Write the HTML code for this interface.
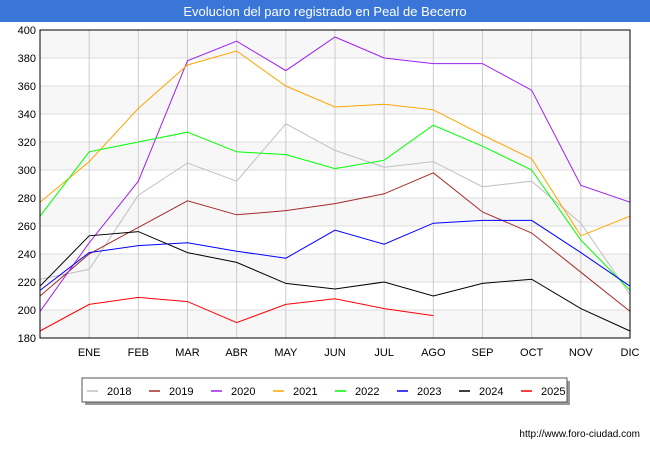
<!DOCTYPE html>
<html><head><meta charset="utf-8"><style>
body{margin:0;width:650px;height:450px;background:#fff;font-family:"Liberation Sans",sans-serif;overflow:hidden}
</style></head><body>
<svg width="650" height="450" xmlns="http://www.w3.org/2000/svg" font-family="Liberation Sans, sans-serif">
<rect x="0" y="0" width="650" height="22" fill="#3a76d8"/>
<text x="325" y="16" text-anchor="middle" fill="#fff" font-size="13">Evolucion del paro registrado en Peal de Becerro</text>
<g id="grid"></g><g id="series"></g>
<rect x="40" y="30" width="590" height="308" fill="none" stroke="#000" stroke-width="1"/>
<g id="axes"></g>
<rect x="85" y="381" width="485" height="24" fill="#999"/>
<rect x="82" y="378" width="485" height="24" fill="#fff" stroke="#555"/>
<g id="legend"></g>
<text x="640" y="437" text-anchor="end" font-size="10" fill="#000">http://www.foro-ciudad.com</text>
</svg>
<script>
const months=["","ENE","FEB","MAR","ABR","MAY","JUN","JUL","AGO","SEP","OCT","NOV","DIC"];
const yTicks=[180,200,220,240,260,280,300,320,340,360,380,400];
const years=["2018","2019","2020","2021","2022","2023","2024","2025"];
const colors=["#c0c0c0","#a52a2a","#a020f0","#ffa500","#00ff00","#0000ff","#000000","#ff0000"];
const s2018=[222,229,282,305,292,333,314,302,306,288,292,262,211];
const s2019=[210,240,259,278,268,271,276,283,298,270,255,227,199];
const s2020=[199,248,292,378,392,371,395,380,376,376,357,289,277];
const s2021=[277,306,344,375,385,360,345,347,343,325,308,253,267];
const s2022=[267,313,320,327,313,311,301,307,332,317,300,250,214];
const s2023=[214,241,246,248,242,237,257,247,262,264,264,241,217];
const s2024=[217,253,256,241,234,219,215,220,210,219,222,201,185];
const s2025=[185,204,209,206,191,204,208,201,196];
const series=[s2018,s2019,s2020,s2021,s2022,s2023,s2024,s2025];
const NS="http://www.w3.org/2000/svg";
const X0=40,X1=630,Y0=338,Y1=30,ymin=180,ymax=400;
const xs=i=>X0+i*(X1-X0)/(months.length-1);
const ys=v=>Y0-(v-ymin)*(Y0-Y1)/(ymax-ymin);
function mk(t,a,p){const e=document.createElementNS(NS,t);for(const k in a)e.setAttribute(k,a[k]);p.appendChild(e);return e;}
const grid=document.getElementById('grid'),axes=document.getElementById('axes');
for(let i=0;i<yTicks.length-1;i++){
 if(i%2===0){const r=mk('rect',{x:X0,y:ys(yTicks[i+1]),width:X1-X0,height:ys(yTicks[i])-ys(yTicks[i+1]),fill:'#f7f7f7'},grid);
 
 }
}
yTicks.forEach(v=>{const l=mk('line',{x1:X0,x2:X1,y1:ys(v),y2:ys(v),stroke:'#ddd'},grid);
 
 
 const t=mk('text',{x:X0-4,y:ys(v)+4,'text-anchor':'end','font-size':'11',fill:'#000'},axes);t.textContent=v;
 
 });
months.forEach((m,i)=>{if(i===0)return;const l=mk('line',{x1:xs(i),x2:xs(i),y1:Y1,y2:Y0,stroke:'#ccc'},grid);
 
 
 const t=mk('text',{x:xs(i),y:356,'text-anchor':'middle','font-size':'11',fill:'#000'},axes);t.textContent=m;
 
 });
const sg=document.getElementById('series');
series.forEach((s,k)=>{const p=mk('polyline',{points:s.map((v,i)=>xs(i)+','+ys(v)).join(' '),fill:'none',stroke:colors[k],'stroke-width':1},sg);
 
 });
const lg=document.getElementById('legend');
years.forEach((y,k)=>{const x=87+k*62;
 const l=mk('line',{x1:x,x2:x+11,y1:391,y2:391,stroke:colors[k],'stroke-width':1.5},lg);
 
 
 const t=mk('text',{x:x+20,y:395,'font-size':'11',fill:'#000'},lg);t.textContent=y;
 
 });
</script>
</body></html>
